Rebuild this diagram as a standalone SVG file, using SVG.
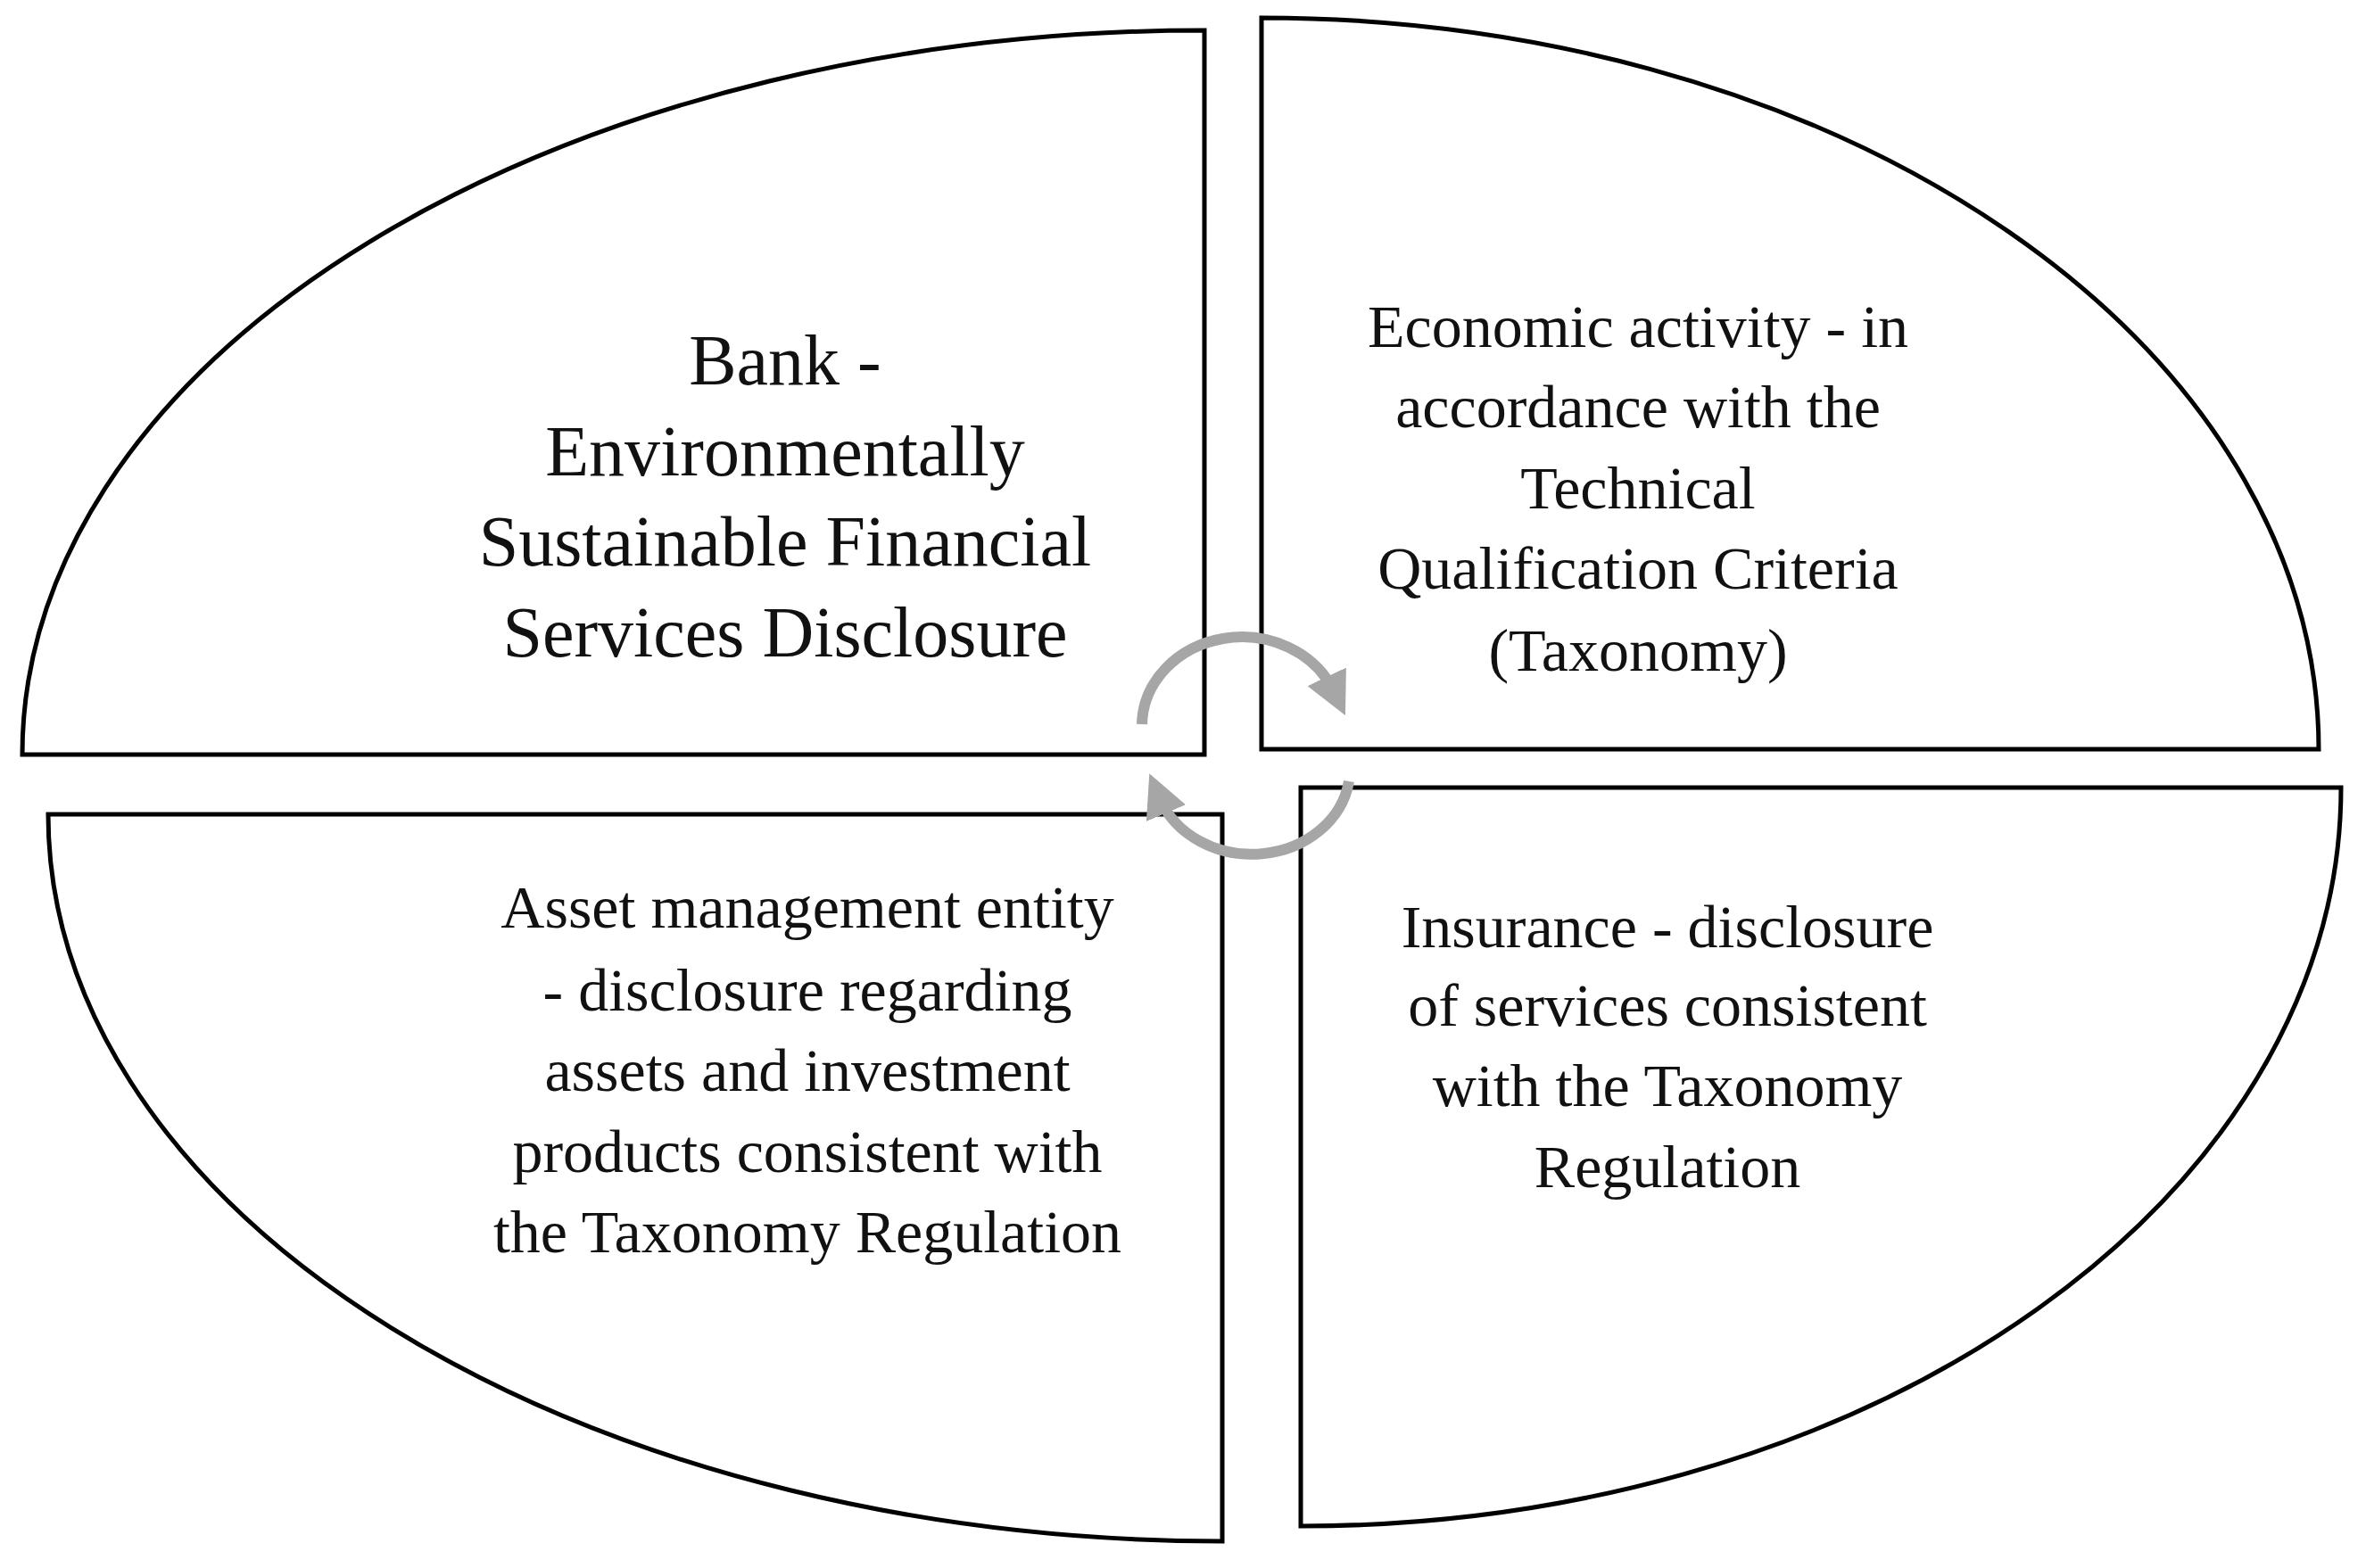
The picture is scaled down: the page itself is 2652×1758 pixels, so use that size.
<svg xmlns="http://www.w3.org/2000/svg" width="2652" height="1758" viewBox="0 0 2652 1758">
<style>
.q{fill:#fff;stroke:#000;stroke-width:5}
.t{font-family:"Liberation Serif",serif;font-size:68px;text-anchor:middle;fill:#111}
.big{font-size:80px}
.c{fill:none;stroke:#a6a6a6;stroke-width:12}
</style>
<defs><marker id="ah" markerWidth="4" markerHeight="4" refX="1.5" refY="2" orient="auto" markerUnits="strokeWidth"><path d="M0,0 L4,2 L0,4 Z" fill="#a6a6a6"/></marker></defs>
<rect width="2652" height="1758" fill="#fff"/>
<g id="bank"><path class="q" d="M1350,34 L1350,846 L25,846 A1325,812 0 0 1 1350,34 Z"/>
<text class="t big" x="880"><tspan x="880" y="431">Bank -</tspan><tspan x="880" y="533">Environmentally</tspan><tspan x="880" y="634">Sustainable Financial</tspan><tspan x="880" y="736">Services Disclosure</tspan></text></g>
<g id="economic"><path class="q" d="M1414,20 L1414,840 L2599,840 A1185,820 0 0 0 1414,20 Z"/>
<text class="t" x="1836"><tspan x="1836" y="389">Economic activity - in</tspan><tspan x="1836" y="479">accordance with the</tspan><tspan x="1836" y="570">Technical</tspan><tspan x="1836" y="660">Qualification Criteria</tspan><tspan x="1836" y="752">(Taxonomy)</tspan></text></g>
<g id="asset"><path class="q" d="M54,913 L1370,913 L1370,1728 A1316,815 0 0 1 54,913 Z"/>
<text class="t" x="905"><tspan x="905" y="1040">Asset management entity</tspan><tspan x="905" y="1133">- disclosure regarding</tspan><tspan x="905" y="1223">assets and investment</tspan><tspan x="905" y="1314">products consistent with</tspan><tspan x="905" y="1404">the Taxonomy Regulation</tspan></text></g>
<g id="insurance"><path class="q" d="M1458,883 L2624,883 A1166,828 0 0 1 1458,1711 Z"/>
<text class="t" x="1869"><tspan x="1869" y="1062">Insurance - disclosure</tspan><tspan x="1869" y="1150">of services consistent</tspan><tspan x="1869" y="1240">with the Taxonomy</tspan><tspan x="1869" y="1331">Regulation</tspan></text></g>
<g id="connectors">
<path class="c" marker-end="url(#ah)" d="M1280,812 A112,100 0 0 1 1495,775"/>
<path class="c" marker-end="url(#ah)" d="M1512,876 A110,96 0 0 1 1300,895"/>
</g>
</svg>
